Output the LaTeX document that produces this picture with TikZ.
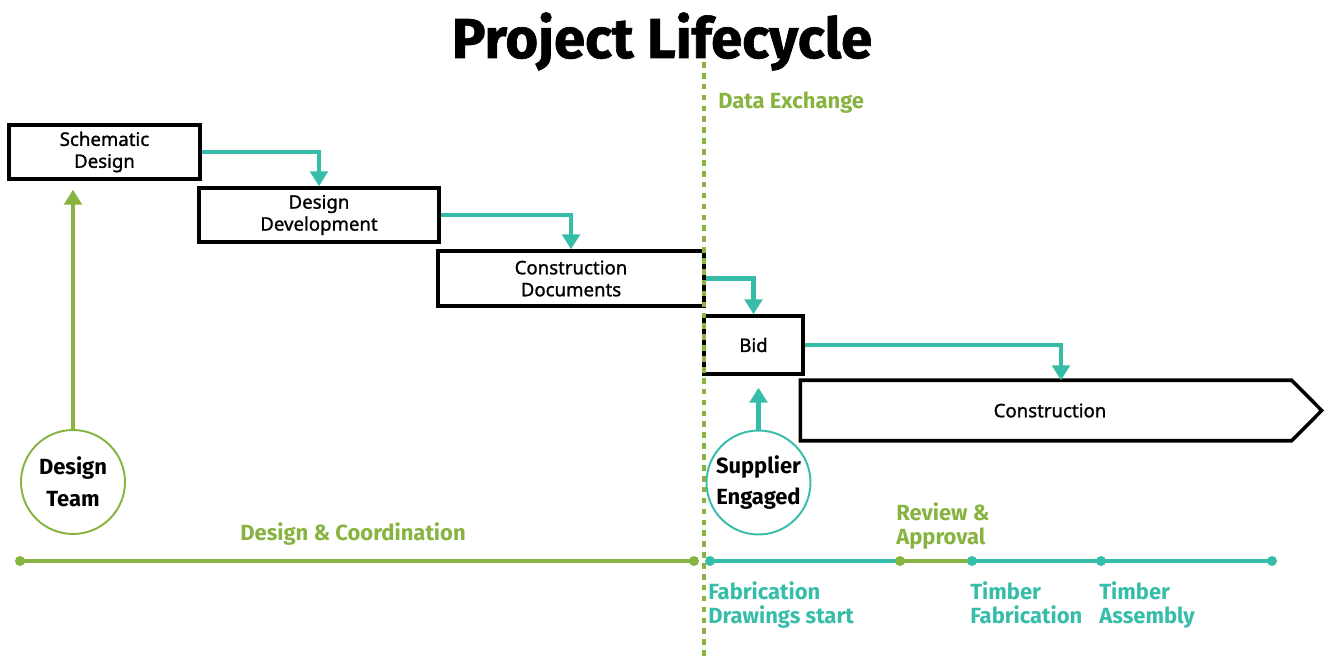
\documentclass[tikz,border=0pt]{standalone}
\usepackage{fontspec}
\setmainfont[FakeBold=1.2]{Noto Sans}
\newfontfamily\lblfont{Fira Sans}
\newfontfamily\titlefont[FakeBold=1.2]{Fira Sans}
\usetikzlibrary{arrows.meta,positioning,calc}
\definecolor{lifegreen}{HTML}{87B340}
\definecolor{lifeteal}{HTML}{36BDA9}

\begin{document}
\begin{tikzpicture}[x=0.02cm,y=-0.02cm,
  stage/.style={draw,line width=2pt,align=center,inner sep=0pt,font=\fontsize{10.6}{12.5}\selectfont},
  flow/.style={lifeteal,line width=2.8pt,-{Triangle[width=10pt,length=8.5pt]}},
  team/.style={circle,draw,line width=1.1pt,minimum size=2.08cm,align=center,inner sep=0pt,font=\lblfont\bfseries\fontsize{12.5}{18}\selectfont},
  lbl/.style={align=left,inner sep=0pt,font=\lblfont\bfseries\fontsize{12.5}{13.6}\selectfont},
  track/.style={line width=2.3pt}]
  \useasboundingbox (0,0) rectangle (1330,669);
  \node[font=\titlefont\bfseries\fontsize{32}{36}\selectfont,anchor=base] (title) at (662,58) {Project Lifecycle};
  % phases
  \node[stage,minimum width=3.82cm,minimum height=1.08cm] (sd) at (104.5,152) {Schematic\\Design};
  \node[stage,minimum width=4.8cm,minimum height=1.08cm] (dd) at (319,215) {Design\\Development};
  \node[stage,minimum width=5.32cm,minimum height=1.1cm] (cd) at (571,278.5) {Construction\\Documents};
  \node[stage,minimum width=1.98cm,minimum height=1.16cm] (bid) at (753.5,345) {Bid};
  \node[stage,draw=none,minimum width=9.76cm,minimum height=1.14cm] (con) at (1046,410.5) {\hspace{0.16cm}Construction};
  \draw[line width=2pt] (con.north west) -- (con.north east) -- ([xshift=0.6cm]con.east) -- (con.south east) -- (con.south west) -- cycle;
  \draw[flow] (sd.east) -| (dd.north);
  \draw[flow] (dd.east) -| (cd.north);
  \draw[flow] (cd.east) -| (bid.north);
  \draw[flow] (bid.east) -| ([xshift=0.3cm]con.north);
  % teams
  \node[team,lifegreen,text=black] (dt) at (73,482) {Design\\Team};
  \node[team,lifeteal,text=black] (se) at (758.5,482.5) {Supplier\\Engaged};
  \draw[flow,lifegreen,shorten >=0.18cm] (dt.north) -- (dt.north |- sd.south);
  \draw[flow,shorten >=0.24cm] (se.north) -- (se.north |- bid.south);
  % data exchange line
  \coordinate (xtop) at (704,62);
  \coordinate (xbot) at (704,660);
  \draw[lifegreen,line width=2.6pt,dash pattern=on 3.2pt off 3pt] (xtop) -- (xbot);
  \node[lbl,lifegreen,anchor=north west] (dx) at (718,92) {Data Exchange};
  % timeline
  \coordinate (dstart) at (20,561);
  \coordinate (dend) at (694,561);
  \coordinate (fab) at (710,561);
  \coordinate (rev) at (900,561);
  \coordinate (tfab) at (972,561);
  \coordinate (tasm) at (1101,561);
  \coordinate (tend) at (1272,561);
  \draw[track,lifegreen] (dstart) -- (dend);
  \draw[track,lifeteal] (fab) -- (rev);
  \draw[track,lifegreen] (rev) -- (tfab);
  \draw[track,lifeteal] (tfab) -- (tend);
  \foreach \p in {dstart,dend,rev} \fill[lifegreen] (\p) circle (0.1cm);
  \foreach \p in {fab,tfab,tasm,tend} \fill[lifeteal] (\p) circle (0.1cm);
  \node[lbl,lifegreen,anchor=north] (coord) at (353,522) {Design \& Coordination};
  \node[lbl,lifegreen,anchor=north west] (review) at (896,502) {Review \&\\Approval};
  \node[lbl,lifeteal,anchor=north west] (fabdraw) at (708,581) {Fabrication\\Drawings start};
  \node[lbl,lifeteal,anchor=north west] (timfab) at (970,581) {Timber\\Fabrication};
  \node[lbl,lifeteal,anchor=north west] (timasm) at (1099,581) {Timber\\Assembly};
\end{tikzpicture}
\end{document}
